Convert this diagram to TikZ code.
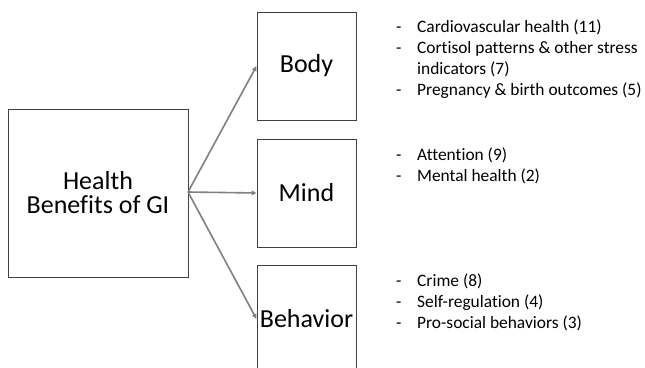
\documentclass[tikz,border=0pt]{standalone}
\usepackage{fontspec}
\setmainfont{Carlito}[Ligatures={NoCommon}]
\usetikzlibrary{arrows.meta}
\definecolor{boxline}{HTML}{404040}
\definecolor{arrowgray}{HTML}{808080}
\tikzset{
  catbox/.style={draw=boxline, line width=0.9pt, rectangle, inner sep=0pt,
    minimum width=99pt, minimum height=108pt, font=\fontsize{26}{30}\selectfont},
  mainbox/.style={draw=boxline, line width=0.9pt, rectangle, inner sep=0pt,
    minimum width=180pt, minimum height=168pt, align=center, font=\fontsize{26}{24}\selectfont},
  conn/.style={draw=arrowgray, line width=1.6pt, -{Triangle[length=5pt,width=4.5pt]}},
  listnode/.style={anchor=base west, inner sep=0pt, font=\fontsize{17.4}{21}\selectfont}
}
\newcommand{\mylist}[1]{\begin{tabular}[t]{@{}p{21pt}@{}l@{}}#1\end{tabular}}
\begin{document}
\begin{tikzpicture}[x=1pt,y=-1pt]
\useasboundingbox (0,0) rectangle (645,367);
\clip (0,0) rectangle (645,367);
\node[mainbox] (hb) at (98,193) {Health\\Benefits of GI};
\node[catbox] (body) at (306.5,66) {Body};
\node[catbox] (mind) at (306.5,193) {Mind};
\node[catbox] (beh) at (306.5,319) {Behavior};
\coordinate (src) at (188,192);
\draw[conn] (src) -- (body.west);
\draw[conn] (src) -- (mind.west);
\draw[conn] (src) -- (beh.west);
\node[listnode] (l1) at (396,32.5) {\mylist{- & Cardiovascular health (11)\\ - & Cortisol patterns \& other stress\\ & indicators (7)\\ - & Pregnancy \& birth outcomes (5)}};
\node[listnode] (l2) at (396,160) {\mylist{- & Attention (9)\\ - & Mental health (2)}};
\node[listnode] (l3) at (396,286) {\mylist{- & Crime (8)\\ - & Self-regulation (4)\\ - & Pro-social behaviors (3)}};
\end{tikzpicture}
\end{document}
